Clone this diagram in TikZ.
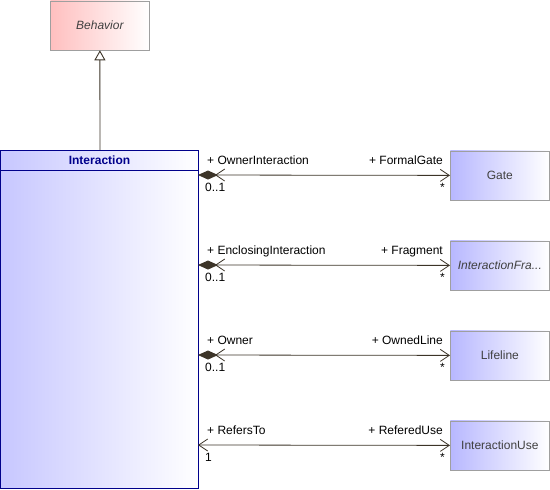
\documentclass[tikz,border=0pt]{standalone}
\usepackage{fontspec}
\setmainfont{Liberation Sans}
\usetikzlibrary{arrows.meta}
\definecolor{linecol}{HTML}{3C3428}
\definecolor{txtcol}{HTML}{404040}
\definecolor{navy}{HTML}{00008B}
\tikzset{
  classbox/.style={draw=gray!75, line width=0.8pt, minimum width=99pt, minimum height=49pt,
    left color=blue!28, right color=white, text=txtcol, font=\fontsize{12}{14}\selectfont, inner sep=0pt},
  parentbox/.style={classbox, left color=red!25},
  rolelabel/.style={font=\fontsize{12}{14}\selectfont, inner sep=0pt},
  composite/.style={draw=linecol, line width=0.8pt,
    {Diamond[length=20pt,width=9pt,fill=linecol]Straight Barb[length=9pt,width=12pt,sep=-3pt]}-{Straight Barb[length=9pt,width=12pt]}},
  assoc/.style={draw=linecol, line width=0.8pt,
    {Straight Barb[length=9pt,width=12pt]}-{Straight Barb[length=9pt,width=12pt]}},
}
\begin{document}
\begin{tikzpicture}[x=1pt,y=-1pt]
\useasboundingbox (0,0) rectangle (550,490);

% superclass
\node[parentbox, anchor=north west] (behavior) at (50,0.5) {\itshape Behavior};

% main class with header compartment
\shade[left color=blue!22, right color=white] (0.5,150) rectangle (198,488);
\draw[navy, line width=0.9pt] (0.5,150) rectangle (198,488);
\draw[navy, line width=0.9pt] (0.5,170) -- (198,170);
\node[font=\bfseries\fontsize{12}{14}\selectfont, text=navy, anchor=base] (interaction) at (99.5,164) {Interaction};
\coordinate (intTop) at (100,150);

% generalization
\draw[linecol, line width=0.9pt, -{Triangle[open,length=10pt,width=11pt,fill=white]}] (intTop) -- (behavior.south);

% associated classes
\node[classbox, anchor=north west] (gate) at (450,150.5) {Gate};
\node[classbox, anchor=north west] (fragment) at (450,240.5) {\itshape InteractionFra...};
\node[classbox, anchor=north west] (lifeline) at (450,330.5) {Lifeline};
\node[classbox, anchor=north west] (use) at (450,420.5) {InteractionUse};

\coordinate (aGate) at (198,175);
\coordinate (aFrag) at (198,265);
\coordinate (aLife) at (198,355);
\coordinate (aUse) at (198,445);

\draw[composite] (aGate) -- (gate.west);
\draw[composite] (aFrag) -- (fragment.west);
\draw[composite] (aLife) -- (lifeline.west);
\draw[assoc] (aUse) -- (use.west);

% role names and multiplicities
\node[rolelabel, anchor=base west] (r1a) at (207,164) {+ OwnerInteraction};
\node[rolelabel, anchor=base east] (r1b) at (443,164) {+ FormalGate};
\node[rolelabel, anchor=base west] (m1a) at (205,191) {0..1};
\node[rolelabel, anchor=base east] (m1b) at (445,191) {*};

\node[rolelabel, anchor=base west] (r2a) at (207,254) {+ EnclosingInteraction};
\node[rolelabel, anchor=base east] (r2b) at (443,254) {+ Fragment};
\node[rolelabel, anchor=base west] (m2a) at (205,281) {0..1};
\node[rolelabel, anchor=base east] (m2b) at (445,281) {*};

\node[rolelabel, anchor=base west] (r3a) at (207,344) {+ Owner};
\node[rolelabel, anchor=base east] (r3b) at (443,344) {+ OwnedLine};
\node[rolelabel, anchor=base west] (m3a) at (205,371) {0..1};
\node[rolelabel, anchor=base east] (m3b) at (445,371) {*};

\node[rolelabel, anchor=base west] (r4a) at (207,434) {+ RefersTo};
\node[rolelabel, anchor=base east] (r4b) at (443,434) {+ ReferedUse};
\node[rolelabel, anchor=base west] (m4a) at (205,461) {1};
\node[rolelabel, anchor=base east] (m4b) at (445,461) {*};
\end{tikzpicture}
\end{document}
